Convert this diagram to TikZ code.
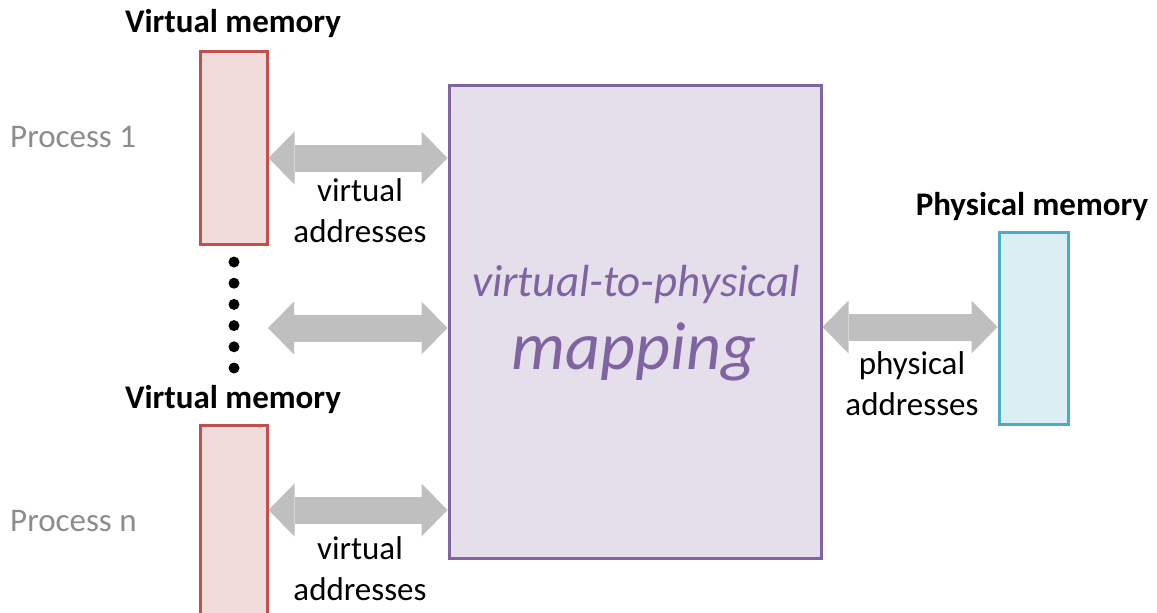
\documentclass[tikz,border=0pt]{standalone}
\usepackage{fontspec}
\setmainfont{Carlito}
\usetikzlibrary{arrows.meta}
\definecolor{vmred}{HTML}{C0504D}
\definecolor{vmfill}{HTML}{F2DCDB}
\definecolor{mappurple}{HTML}{8064A2}
\definecolor{mapfill}{HTML}{E5DFEC}
\definecolor{pmblue}{HTML}{4BACC6}
\definecolor{pmfill}{HTML}{DAEEF3}
\definecolor{arrowgray}{HTML}{BFBFBF}
\definecolor{procgray}{HTML}{8C8C8C}
\tikzset{
  memlabel/.style={font=\fontsize{33}{41}\selectfont\bfseries},
  proclabel/.style={font=\fontsize{33}{41}\selectfont,text=procgray,anchor=west,inner sep=0pt},
  addrlabel/.style={font=\fontsize{33}{41}\selectfont,align=center},
  vmbox/.style={draw=vmred,fill=vmfill,line width=3pt,minimum width=67pt,inner sep=0pt},
  bigarrow/.style={draw=arrowgray,line width=27pt,
    {Triangle[length=26pt,width=53pt,line width=0pt]}-{Triangle[length=26pt,width=53pt,line width=0pt]}},
}
\begin{document}
\begin{tikzpicture}[x=1pt,y=-1pt]
  \useasboundingbox (0,0) rectangle (1157,613);
  % memory boxes
  \node[vmbox,minimum height=193pt] (vm1) at (233.5,147.5) {};
  \node[vmbox,minimum height=215pt] (vmn) at (233.5,532.5) {};
  \node[draw=mappurple,fill=mapfill,line width=3pt,minimum width=372pt,minimum height=473pt] (map) at (635,321.5) {};
  \node[draw=pmblue,fill=pmfill,line width=3pt,minimum width=69pt,minimum height=192pt] (pm) at (1033.5,328) {};
  % labels
  \node[memlabel] (vm1lbl) at (233,24) {Virtual memory};
  \node[memlabel] (vmnlbl) at (233,400) {Virtual memory};
  \node[memlabel] (pmlbl) at (1032,207) {Physical memory};
  \node[proclabel] (proc1) at (10,137) {Process 1};
  \node[proclabel] (procn) at (10,521) {Process n};
  \node[font=\fontsize{45}{50}\selectfont\itshape,text=mappurple] (maptop) at (636,284) {virtual-to-physical};
  \node[font=\fontsize{68}{72}\selectfont\itshape,text=mappurple] (mapbot) at (634,352) {mapping};
  % dots
  \foreach \i in {0,...,5}
    \fill (234,262+21.2*\i) circle (5.5pt);
  % arrows
  \coordinate (mid) at (268,328);
  \draw[bigarrow] (vm1.east |- 0,158) -- (map.west |- 0,158);
  \draw[bigarrow] (mid) -- (map.west |- mid);
  \draw[bigarrow] (vmn.east |- 0,510) -- (map.west |- 0,510);
  \draw[bigarrow] (map.east |- 0,327) -- (pm.west |- 0,327);
  \node[addrlabel] (va1) at (360,211) {virtual\\addresses};
  \node[addrlabel] (van) at (360,569) {virtual\\addresses};
  \node[addrlabel] (pa) at (912,384) {physical\\addresses};
\end{tikzpicture}
\end{document}
